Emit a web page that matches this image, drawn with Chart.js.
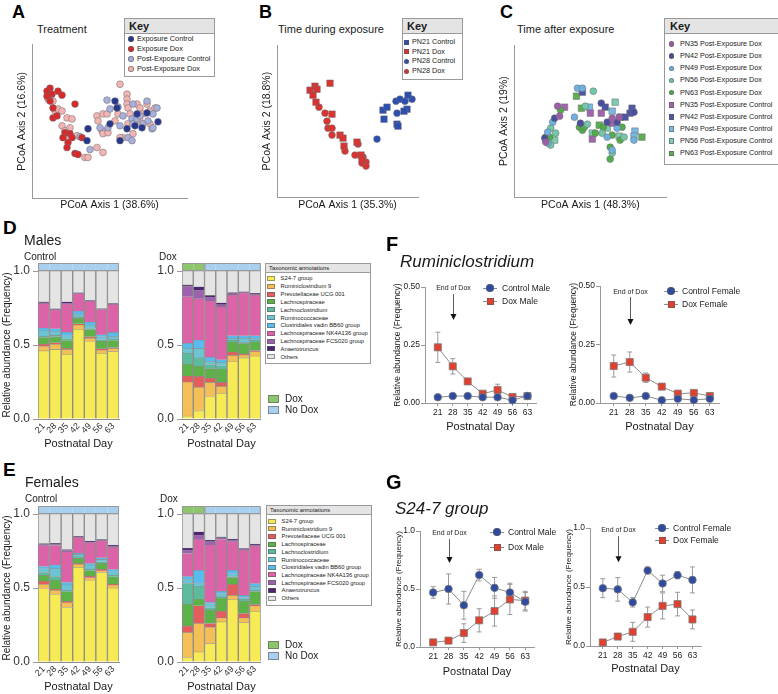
<!DOCTYPE html>
<html>
<head>
<meta charset="utf-8">
<script src="https://cdn.jsdelivr.net/npm/chart.js@4.4.1/dist/chart.umd.min.js"></script>
<style>
  html, body { margin:0; padding:0; background:#fff; }
  #fig { position:relative; width:778px; height:694px; overflow:hidden; font-family: Arial, "Liberation Sans", Helvetica, sans-serif; color:#1a1a1a; }
  #fig canvas { position:absolute; }
  .t { position:absolute; white-space:nowrap; line-height:1; }
  .big { font-weight:bold; color:#000; }
  .box { position:absolute; border:1px solid #9a9a9a; background:#fff; box-sizing:border-box; }
  .hdr { border-bottom:1px solid #9a9a9a; background:#e4e4e4; box-sizing:border-box; white-space:nowrap; }
  .row { position:absolute; white-space:nowrap; line-height:10px; }
  .mk { position:absolute; box-sizing:border-box; }
</style>
</head>
<body>
<div id="fig">
  <canvas id="cA" width="200" height="175" style="left:0px;top:40px"></canvas>
  <canvas id="cB" width="185" height="175" style="left:245px;top:40px"></canvas>
  <canvas id="cC" width="190" height="175" style="left:482px;top:40px"></canvas>
  <canvas id="cDc" width="125" height="200" style="left:0px;top:255px"></canvas>
  <canvas id="cDd" width="125" height="200" style="left:140px;top:255px"></canvas>
  <canvas id="cEc" width="125" height="200" style="left:0px;top:498px"></canvas>
  <canvas id="cEd" width="125" height="200" style="left:140px;top:498px"></canvas>
  <canvas id="cFm" width="165" height="163" style="left:380px;top:275px"></canvas>
  <canvas id="cFf" width="175" height="163" style="left:555px;top:275px"></canvas>
  <canvas id="cGm" width="170" height="164" style="left:375px;top:519px"></canvas>
  <canvas id="cGf" width="175" height="164" style="left:545px;top:516px"></canvas>

  <div class="t big" style="left:12px;top:3px;font-size:18px">A</div>
  <div class="t big" style="left:259px;top:3px;font-size:18px">B</div>
  <div class="t big" style="left:500px;top:3px;font-size:18px">C</div>
  <div class="t" style="left:37px;top:23.5px;font-size:11px">Treatment</div>
  <div class="t" style="left:278px;top:23.5px;font-size:11px">Time during exposure</div>
  <div class="t" style="left:517px;top:23.5px;font-size:11px">Time after exposure</div>

  <div class="t big" style="left:3px;top:217.5px;font-size:19px">D</div>
  <div class="t" style="left:24px;top:233px;font-size:14px">Males</div>
  <div class="t" style="left:24px;top:251.7px;font-size:10px">Control</div>
  <div class="t" style="left:159px;top:251.7px;font-size:10px">Dox</div>

  <div class="t big" style="left:3px;top:459.5px;font-size:19px">E</div>
  <div class="t" style="left:25px;top:475px;font-size:14px">Females</div>
  <div class="t" style="left:25px;top:494px;font-size:10px">Control</div>
  <div class="t" style="left:160px;top:494px;font-size:10px">Dox</div>

  <div class="t big" style="left:386px;top:234.4px;font-size:20px">F</div>
  <div class="t" style="left:400px;top:252.8px;font-size:17px;font-style:italic">Ruminiclostridium</div>
  <div class="t big" style="left:386px;top:472.4px;font-size:20px">G</div>
  <div class="t" style="left:395px;top:499.8px;font-size:17px;font-style:italic">S24-7 group</div>
</div>

<script>
// ---------- data ----------
const days = [21, 28, 35, 42, 49, 56, 63];

// A: PCoA scores (axis units)
const expControl = [[88,72],[87,60],[110,77],[120,60],[127,72],[135,75],[142,73],[147,88],[158,79],[137,87],[117,93],[115,100]];
const expDox = [[50,113],[47,110],[47,105],[58,110],[62,106],[52,107],[75,97],[53,93],[53,83],[65,68],[70,67],[68,58],[72,63],[82,63],[75,47],[78,46],[67,53],[63,63],[57,85],[50,100]];
const postControl = [[107,101],[110,92],[118,94],[123,85],[132,82],[133,77],[137,82],[140,85],[143,77],[148,80],[153,87],[157,93],[152,72],[128,63],[132,60],[90,51],[80,64],[100,73],[108,73],[153,73],[120,75],[147,100],[133,97]];
const postDox = [[48,102],[53,100],[55,90],[58,92],[62,90],[67,83],[72,82],[62,75],[70,73],[65,70],[68,62],[77,65],[85,43],[88,43],[97,53],[103,48],[97,85],[98,80],[103,87],[107,87],[102,70],[103,67],[108,68],[118,87],[120,117],[127,107],[127,102],[127,97],[128,93],[130,87],[137,97],[140,93],[147,97],[150,90],[143,87],[123,63],[120,63],[115,80],[133,67],[128,77],[140,80],[150,77],[155,93]];

// B
const pn21Control = [[383,90],[387,93],[384,81],[397,76],[398,74],[408,105],[407,91],[404,89]];
const pn21Dox = [[330,117],[310,110],[315,114],[317,111],[313,105],[316,98],[332,86],[340,65],[343,62],[344,54],[357,58],[361,45],[362,41]];
const pn28Control = [[377,61],[396,99],[400,101],[405,99],[412,101],[397,87]];
const pn28Dox = [[319,93],[325,87],[327,79],[328,72],[332,72],[332,65],[345,49],[355,45],[358,56],[363,43],[366,38],[366,34],[362,37]];

// C
const pn35Dox = [[558,94],[560,84],[546,58],[613,82],[620,83]];
const pn42Dox = [[555,82],[545,62],[602,97],[581,77],[635,88],[618,78],[608,78]];
const pn49Dox = [[578,112],[583,112],[553,78],[548,57],[575,83],[608,63],[613,50],[635,60],[618,72],[548,68]];
const pn56Dox = [[594,109],[586,94],[551,72],[551,55],[556,67],[603,67],[613,47],[588,76],[625,63]];
const pn63Dox = [[561,90],[546,63],[550,63],[580,73],[583,70],[596,67],[604,73],[611,53],[611,41],[613,65],[623,73],[621,60],[585,73]];
const pn35Control = [[565,93],[591,87],[602,87],[593,61],[613,77]];
const pn42Control = [[606,93],[633,92],[631,87],[626,83],[583,108]];
const pn49Control = [[590,93],[613,89],[621,83],[636,69],[635,64]];
const pn56Control = [[616,98],[608,72],[593,67],[620,64],[555,60]];
const pn63Control = [[577,104],[582,92],[600,75],[643,63]];

// D/E: relative abundance per day (rows = days, columns = taxa)
const taxa = ['S24-7 group','Ruminiclostridium 9','Prevotellaceae UCG 001','Lachnospiraceae','Lachnoclostridium','Ruminococcaceae','Clostridiales vadin BB60 group','Lachnospiraceae NK4A136 group','Lachnospiraceae FCS020 group','Anaerotruncus','Others'];
const maleControl = [
  [0.46,0.03,0.015,0.045,0.01,0.035,0.02,0.165,0.005,0.006,0.209],
  [0.47,0.035,0.01,0.04,0.01,0.025,0.02,0.127,0.004,0.004,0.255],
  [0.437,0.033,0.007,0.053,0.012,0.02,0.025,0.19,0.007,0.008,0.208],
  [0.606,0.029,0.008,0.037,0.01,0.015,0.025,0.117,0.003,0.002,0.148],
  [0.522,0.023,0.01,0.05,0.005,0.025,0.02,0.14,0.003,0.002,0.2],
  [0.444,0.022,0.009,0.05,0.01,0.02,0.015,0.17,0.003,0.002,0.255],
  [0.455,0.022,0.006,0.047,0.01,0.02,0.025,0.188,0.004,0.003,0.22]
];
const maleDox = [
  [0.02,0.23,0.04,0.08,0.075,0.034,0.033,0.314,0.07,0.01,0.094],
  [0.055,0.16,0.073,0.068,0.057,0.064,0.057,0.279,0.057,0.023,0.107],
  [0.15,0.097,0.029,0.064,0.028,0.022,0.028,0.379,0.027,0.011,0.165],
  [0.174,0.046,0.027,0.091,0.022,0.024,0.016,0.356,0.016,0.013,0.215],
  [0.39,0.04,0.022,0.068,0.012,0.014,0.016,0.274,0.011,0.007,0.146],
  [0.413,0.019,0.008,0.07,0.006,0.03,0.016,0.29,0.004,0.004,0.14],
  [0.425,0.029,0.009,0.057,0.012,0.011,0.019,0.274,0.006,0.007,0.151]
];
const femaleControl = [
  [0.495,0.03,0.02,0.04,0.02,0.025,0.015,0.14,0.01,0.005,0.2],
  [0.456,0.029,0.007,0.06,0.025,0.056,0.023,0.131,0.009,0.006,0.198],
  [0.368,0.032,0.01,0.064,0.011,0.035,0.017,0.208,0.008,0.007,0.24],
  [0.64,0.02,0.006,0.034,0.01,0.017,0.007,0.108,0.004,0.003,0.151],
  [0.549,0.02,0.011,0.036,0.011,0.028,0.01,0.141,0.004,0.007,0.183],
  [0.605,0.011,0.011,0.039,0.011,0.016,0.011,0.116,0.004,0.004,0.172],
  [0.5,0.02,0.006,0.05,0.011,0.023,0.015,0.149,0.009,0.007,0.21]
];
const femaleDox = [
  [0.03,0.17,0.044,0.146,0.14,0.027,0.02,0.156,0.023,0.014,0.23],
  [0.068,0.192,0.12,0.044,0.088,0.018,0.09,0.21,0.028,0.022,0.12],
  [0.124,0.109,0.027,0.09,0.016,0.029,0.011,0.384,0.023,0.011,0.176],
  [0.271,0.027,0.045,0.09,0.007,0.023,0.015,0.35,0.012,0.006,0.154],
  [0.424,0.026,0.076,0.045,0.005,0.02,0.024,0.193,0.011,0.006,0.17],
  [0.266,0.032,0.029,0.083,0.014,0.012,0.014,0.306,0.007,0.004,0.233],
  [0.343,0.037,0.008,0.086,0.011,0.027,0.018,0.253,0.007,0.007,0.203]
];
const controlArm = ['No Dox','No Dox','No Dox','No Dox','No Dox','No Dox','No Dox'];
const doxArm = ['Dox','Dox','No Dox','No Dox','No Dox','No Dox','No Dox'];

// F: Ruminiclostridium, G: S24-7 group (mean and error)
const rumMaleCtrl = [0.025, 0.03, 0.03, 0.025, 0.025, 0.012, 0.03];
const rumMaleCtrlErr = [0.004, 0.005, 0.004, 0.004, 0.004, 0.004, 0.005];
const rumMaleDox = [0.24, 0.158, 0.093, 0.04, 0.056, 0.026, 0.03];
const rumMaleDoxErr = [0.065, 0.033, 0.012, 0.01, 0.025, 0.008, 0.008];
const rumFemCtrl = [0.03, 0.022, 0.03, 0.012, 0.018, 0.013, 0.018];
const rumFemCtrlErr = [0.006, 0.005, 0.004, 0.003, 0.005, 0.004, 0.004];
const rumFemDox = [0.158, 0.175, 0.108, 0.07, 0.04, 0.043, 0.03];
const rumFemDoxErr = [0.047, 0.043, 0.02, 0.008, 0.008, 0.01, 0.006];
const s24MaleCtrl = [0.47, 0.50, 0.36, 0.62, 0.51, 0.47, 0.39];
const s24MaleCtrlErr = [0.05, 0.13, 0.12, 0.05, 0.09, 0.08, 0.08];
const s24MaleDox = [0.04, 0.055, 0.12, 0.23, 0.31, 0.41, 0.40];
const s24MaleDoxErr = [0.01, 0.01, 0.08, 0.1, 0.13, 0.13, 0.08];
const s24FemCtrl = [0.49, 0.48, 0.37, 0.64, 0.53, 0.60, 0.56];
const s24FemCtrlErr = [0.08, 0.1, 0.04, 0.03, 0.07, 0.03, 0.11];
const s24FemDox = [0.03, 0.08, 0.12, 0.245, 0.34, 0.355, 0.225];
const s24FemDoxErr = [0.01, 0.02, 0.08, 0.085, 0.11, 0.1, 0.08];

// ---------- styles ----------
const FONT = 'Arial, "Liberation Sans", Helvetica, sans-serif';
Chart.defaults.font.family = FONT;
Chart.defaults.color = '#222';
const taxaColors = ['#f6ea55','#f4bf57','#e35d5f','#5cb247','#5dbb9d','#6bc5d3','#58bdee','#dc63a8','#9d62ae','#4d2372','#e4e4e4'];
const armColors = {'Dox': '#8dc56c', 'No Dox': '#a8cfee'};
const CTRL_BLUE = '#2f4ba0', DOX_RED = '#e2402f';
const fig = document.getElementById('fig');

// ---------- plugins ----------
const stripPlugin = {
  id: 'strip',
  afterDraw(chart, args, o) {
    const {ctx, chartArea, scales: {x}} = chart;
    const w = chartArea.width / o.arm.length;
    const top = chartArea.top - 8, h = 7;
    ctx.save();
    let start = 0;
    o.arm.forEach((a, i) => {
      const cx = x.getPixelForValue(i);
      ctx.fillStyle = armColors[a];
      ctx.fillRect(cx - w / 2, top, w, h);
    });
    ctx.strokeStyle = '#999'; ctx.lineWidth = 1;
    for (let i = 1; i <= o.arm.length; i++) {
      if (i === o.arm.length || o.arm[i] !== o.arm[start]) {
        const l = x.getPixelForValue(start) - w / 2, r = x.getPixelForValue(i - 1) + w / 2;
        ctx.strokeRect(l + 0.5, top + 0.5, r - l - 1, h);
        start = i;
      }
    }
    ctx.restore();
  }
};

const errPlugin = {
  id: 'errbars',
  beforeDatasetsDraw(chart, args, o) {
    const {ctx, scales: {x, y}} = chart;
    ctx.save();
    ctx.strokeStyle = '#9a9a9a'; ctx.lineWidth = 1;
    o.errs.forEach((err, di) => {
      chart.data.datasets[di].data.forEach((p, i) => {
        const px = x.getPixelForValue(p.x);
        const y1 = y.getPixelForValue(p.y + err[i]);
        const y0 = y.getPixelForValue(Math.max(p.y - err[i], 0));
        ctx.beginPath();
        ctx.moveTo(px, y0); ctx.lineTo(px, y1);
        ctx.moveTo(px - 2.5, y1); ctx.lineTo(px + 2.5, y1);
        ctx.moveTo(px - 2.5, y0); ctx.lineTo(px + 2.5, y0);
        ctx.stroke();
      });
    });
    ctx.restore();
  }
};

const doxPlugin = {
  id: 'endDox',
  afterDraw(chart, args, o) {
    const {ctx, scales: {x, y}} = chart;
    const px = Math.round(x.getPixelForValue(o.day)) + 0.5;
    ctx.save();
    ctx.fillStyle = '#222';
    ctx.font = '7px ' + FONT;
    ctx.textAlign = 'center'; ctx.textBaseline = 'middle';
    ctx.fillText(o.text, px, y.getPixelForValue(o.textY));
    const t = y.getPixelForValue(o.from), b = y.getPixelForValue(o.to);
    ctx.strokeStyle = '#333'; ctx.lineWidth = 0.8;
    ctx.beginPath(); ctx.moveTo(px, t); ctx.lineTo(px, b - 5); ctx.stroke();
    ctx.fillStyle = '#111';
    ctx.beginPath(); ctx.moveTo(px - 3, b - 6); ctx.lineTo(px + 3, b - 6); ctx.lineTo(px, b); ctx.closePath(); ctx.fill();
    ctx.restore();
  }
};

// ---------- chart builders ----------
function pcoa(id, sets, xr, yr, xTitle, yTitle, pad, yW, xH) {
  new Chart(document.getElementById(id), {
    type: 'scatter',
    data: {
      datasets: sets.map(s => ({
        label: s.label,
        data: s.pts.map(p => ({x: p[0], y: p[1]})),
        pointStyle: s.shape,
        pointRadius: s.shape === 'rect' ? 4.6 : 3.4,
        pointBackgroundColor: s.color,
        pointBorderColor: 'rgba(110,110,110,0.75)',
        pointBorderWidth: 0.7,
        clip: false
      }))
    },
    options: {
      responsive: false, animation: false,
      layout: {padding: pad},
      plugins: {legend: {display: false}, tooltip: {enabled: false}},
      scales: {
        x: {min: xr[0], max: xr[1], ticks: {display: false}, grid: {display: false, drawTicks: false},
            border: {color: '#999'},
            title: {display: true, text: xTitle, font: {size: 10.5}, color: '#1a1a1a', padding: {top: 0, bottom: 4}},
            afterFit: s => { s.height = xH; }},
        y: {min: yr[0], max: yr[1], ticks: {display: false}, grid: {display: false, drawTicks: false},
            border: {color: '#999'},
            title: {display: true, text: yTitle, font: {size: 10.5}, color: '#1a1a1a', padding: {top: 4, bottom: 0}},
            afterFit: s => { s.width = yW; }}
      }
    }
  });
}

function stacked(id, rows, arm, yTitle, yW, padRight) {
  const datasets = taxa.map((name, k) => ({
    label: name,
    data: rows.map(r => r[k]),
    backgroundColor: taxaColors[k],
    borderColor: '#8c8c8c',
    borderWidth: {top: 0.6, left: 1, right: 1, bottom: 0},
    borderSkipped: false,
    categoryPercentage: 1, barPercentage: 1
  }));
  new Chart(document.getElementById(id), {
    type: 'bar',
    data: {labels: days.map(String), datasets},
    options: {
      responsive: false, animation: false,
      layout: {padding: {left: 0, top: 16, right: padRight, bottom: 0}},
      plugins: {legend: {display: false}, tooltip: {enabled: false}, strip: {arm}},
      scales: {
        x: {stacked: true, grid: {display: false, drawTicks: false}, border: {display: true, color: '#8c8c8c'},
            ticks: {minRotation: 45, maxRotation: 45, autoSkip: false, font: {size: 9}, color: '#333', padding: 2},
            title: {display: true, text: 'Postnatal Day', font: {size: 11}, color: '#1a1a1a', padding: {top: 0, bottom: 4}},
            afterFit: s => { s.height = 36; }},
        y: {stacked: true, min: 0, max: 1,
            ticks: {stepSize: 0.5, callback: v => v.toFixed(1), font: {size: 12}, color: '#333', padding: 3},
            grid: {display: true, drawOnChartArea: false, drawTicks: true, tickLength: 5, color: '#999'},
            border: {display: false},
            title: {display: !!yTitle, text: yTitle || '', font: {size: 10}, color: '#1a1a1a', padding: {top: 1, bottom: 0}},
            afterFit: s => { s.width = yW; }}
      }
    },
    plugins: [stripPlugin]
  });
}

function timeChart(id, c) {
  new Chart(document.getElementById(id), {
    type: 'line',
    data: {
      datasets: [
        {label: c.names[0], data: days.map((d, i) => ({x: d, y: c.ctrl[i]})), borderColor: '#8c8c8c', borderWidth: 1,
         pointStyle: 'circle', pointRadius: 3.8, pointBackgroundColor: CTRL_BLUE, pointBorderColor: '#7a7a7a', pointBorderWidth: 0.8, clip: false},
        {label: c.names[1], data: days.map((d, i) => ({x: d, y: c.dox[i]})), borderColor: '#8c8c8c', borderWidth: 1,
         pointStyle: 'rect', pointRadius: 5, pointBackgroundColor: DOX_RED, pointBorderColor: '#7a7a7a', pointBorderWidth: 0.8, clip: false}
      ]
    },
    options: {
      responsive: false, animation: false,
      layout: {padding: c.pad},
      plugins: {legend: {display: false}, tooltip: {enabled: false},
                errbars: {errs: [c.ctrlErr, c.doxErr]},
                endDox: Object.assign({day: 28, text: 'End of Dox'}, c.arrow)},
      scales: {
        x: {type: 'linear', min: 15, max: 67,
            afterBuildTicks: s => { s.ticks = days.map(v => ({value: v})); },
            ticks: {font: {size: 8.5}, color: '#222', padding: 2, autoSkip: false, maxRotation: 0},
            grid: {display: true, drawOnChartArea: false, tickLength: 3, color: '#999'},
            border: {color: '#999'},
            title: {display: true, text: 'Postnatal Day', font: {size: 11}, color: '#1a1a1a', padding: {top: 0, bottom: 4}},
            afterFit: s => { s.height = c.xH; }},
        y: {min: 0, max: c.yMax,
            ticks: {stepSize: c.yStep, callback: v => v.toFixed(c.dec), font: {size: 8.5}, color: '#222', padding: 1},
            grid: {display: true, drawOnChartArea: false, tickLength: 4, color: '#999'},
            border: {color: '#999'},
            title: {display: true, text: 'Relative abundance (Frequency)', font: {size: c.yfs}, color: '#1a1a1a', padding: {top: 4, bottom: 0}},
            afterFit: s => { s.width = c.yW; }}
      }
    },
    plugins: [errPlugin, doxPlugin]
  });
}

// ---------- HTML keys ----------
function marker(parent, shape, color, cx, cy, size, w, h) {
  const m = document.createElement('div');
  m.className = 'mk';
  const ww = w || size, hh = h || size;
  Object.assign(m.style, {left: (cx - ww / 2) + 'px', top: (cy - hh / 2) + 'px', width: ww + 'px', height: hh + 'px',
    background: color, border: '0.6px solid rgba(90,90,90,0.6)', borderRadius: shape === 'circle' ? '50%' : '0'});
  parent.appendChild(m);
}
function text(parent, str, x, cy, fs) {
  const d = document.createElement('div');
  d.className = 'row';
  d.textContent = str;
  Object.assign(d.style, {left: x + 'px', top: (cy - 5) + 'px', fontSize: fs + 'px'});
  parent.appendChild(d);
}
function makeKey(k) {
  const box = document.createElement('div');
  box.className = 'box';
  Object.assign(box.style, {left: k.left + 'px', top: k.top + 'px', width: k.w + 'px', height: k.h + 'px'});
  const hd = document.createElement('div');
  hd.className = 'hdr';
  hd.textContent = k.title;
  Object.assign(hd.style, {height: k.hh + 'px', lineHeight: (k.hh - 1) + 'px', fontSize: k.tfs + 'px',
    fontWeight: k.bold ? 'bold' : 'normal', paddingLeft: k.tpad + 'px'});
  box.appendChild(hd);
  k.items.forEach((it, i) => {
    const cy = k.first + i * k.step - 1;
    marker(box, it.shape, it.color, k.mx - 1, cy, k.ms, k.sw, k.sh);
    text(box, it.label, k.tx - 1, cy, k.fs);
  });
  fig.appendChild(box);
}
function lineKey(mx, rows, tx, items, fs) {
  items.forEach((it, i) => {
    const ln = document.createElement('div');
    Object.assign(ln.style, {position: 'absolute', left: (mx - 7) + 'px', top: (rows[i] - 0.5) + 'px', width: '14px', height: '1px', background: '#8c8c8c'});
    fig.appendChild(ln);
    marker(fig, it.shape, it.color, mx, rows[i], it.shape === 'rect' ? 7 : 7.5);
    text(fig, it.label, tx, rows[i], fs);
  });
}
function armKey(x, rows) {
  ['Dox', 'No Dox'].forEach((a, i) => {
    marker(fig, 'rect', armColors[a], x + 5.5, rows[i], 0, 11, 8);
    text(fig, a, x + 17, rows[i], 10);
  });
}

// ---------- A, B, C ----------
const setsA = [
  {label: 'Exposure Control', pts: expControl, color: '#26378e', shape: 'circle'},
  {label: 'Exposure Dox', pts: expDox, color: '#d8282a', shape: 'circle'},
  {label: 'Post-Exposure Control', pts: postControl, color: '#a7afdc', shape: 'circle'},
  {label: 'Post-Exposure Dox', pts: postDox, color: '#f3b5b3', shape: 'circle'}
];
const setsB = [
  {label: 'PN21 Control', pts: pn21Control, color: '#2c4eb3', shape: 'rect'},
  {label: 'PN21 Dox', pts: pn21Dox, color: '#dc3330', shape: 'rect'},
  {label: 'PN28 Control', pts: pn28Control, color: '#2c4eb3', shape: 'circle'},
  {label: 'PN28 Dox', pts: pn28Dox, color: '#dc3330', shape: 'circle'}
];
const setsC = [
  {label: 'PN35 Post-Exposure Dox', pts: pn35Dox, color: '#9b5fa8', shape: 'circle'},
  {label: 'PN42 Post-Exposure Dox', pts: pn42Dox, color: '#4b4e9e', shape: 'circle'},
  {label: 'PN49 Post-Exposure Dox', pts: pn49Dox, color: '#6fb2e2', shape: 'circle'},
  {label: 'PN56 Post-Exposure Dox', pts: pn56Dox, color: '#72c8a8', shape: 'circle'},
  {label: 'PN63 Post-Exposure Dox', pts: pn63Dox, color: '#52ac4a', shape: 'circle'},
  {label: 'PN35 Post-Exposure Control', pts: pn35Control, color: '#a264ae', shape: 'rect'},
  {label: 'PN42 Post-Exposure Control', pts: pn42Control, color: '#4e55a6', shape: 'rect'},
  {label: 'PN49 Post-Exposure Control', pts: pn49Control, color: '#7ab8e6', shape: 'rect'},
  {label: 'PN56 Post-Exposure Control', pts: pn56Control, color: '#7ccdb0', shape: 'rect'},
  {label: 'PN63 Post-Exposure Control', pts: pn63Control, color: '#5cb050', shape: 'rect'}
];
pcoa('cA', setsA, [32, 187], [2, 157], 'PCoA Axis 1 (38.6%)', 'PCoA Axis 2 (16.6%)', {left: 12, top: 3, right: 13, bottom: 0}, 20, 17);
pcoa('cB', setsB, [277, 418], [3, 155], 'PCoA Axis 1 (35.3%)', 'PCoA Axis 2 (18.8%)', {left: 12, top: 5, right: 12, bottom: 0}, 20, 18);
pcoa('cC', setsC, [514, 668], [3, 155], 'PCoA Axis 1 (48.3%)', 'PCoA Axis 2 (19%)', {left: 12, top: 5, right: 4, bottom: 0}, 20, 18);

makeKey({left: 124, top: 18, w: 91, h: 59, title: 'Key', bold: true, tfs: 11, hh: 15, tpad: 4,
  first: 21, step: 10, mx: 7, tx: 13, fs: 7.3, ms: 5.5, items: setsA});
makeKey({left: 402, top: 18, w: 61, h: 62, title: 'Key', bold: true, tfs: 11, hh: 15, tpad: 4,
  first: 24, step: 9.7, mx: 4.5, tx: 10, fs: 7.2, ms: 5, items: setsB});
makeKey({left: 664, top: 18, w: 116, h: 147, title: 'Key', bold: true, tfs: 11, hh: 15, tpad: 5,
  first: 26, step: 12.15, mx: 7.5, tx: 16, fs: 7.2, ms: 5.5, items: setsC});

// ---------- D, E ----------
stacked('cDc', maleControl, controlArm, 'Relative abundance (Frequency)', 38, 6);
stacked('cDd', maleDox, doxArm, null, 42, 3);
stacked('cEc', femaleControl, controlArm, 'Relative abundance (Frequency)', 38, 6);
stacked('cEd', femaleDox, doxArm, null, 42, 3);

const taxaItems = taxa.map((t, k) => ({label: t, color: taxaColors[k], shape: 'rect'}));
makeKey({left: 265, top: 263, w: 106, h: 101, title: 'Taxonomic annotations', bold: false, tfs: 5.9, hh: 9, tpad: 3,
  first: 15.3, step: 7.85, mx: 6, tx: 15.6, fs: 5.8, ms: 0, sw: 8, sh: 5, items: taxaItems});
makeKey({left: 266, top: 505, w: 106, h: 101, title: 'Taxonomic annotations', bold: false, tfs: 5.9, hh: 9, tpad: 3,
  first: 16, step: 7.7, mx: 6, tx: 15.6, fs: 5.8, ms: 0, sw: 8, sh: 5, items: taxaItems});
armKey(268, [398.5, 410]);
armKey(268, [644.5, 655.5]);

// ---------- F, G ----------
timeChart('cFm', {names: ['Control Male', 'Dox Male'], ctrl: rumMaleCtrl, ctrlErr: rumMaleCtrlErr, dox: rumMaleDox, doxErr: rumMaleDoxErr,
  yMax: 0.5, yStep: 0.25, dec: 2, yW: 36, yfs: 8.5, xH: 35, pad: {left: 9, top: 12, right: 9, bottom: 0},
  arrow: {textY: 0.496, from: 0.47, to: 0.358}});
timeChart('cFf', {names: ['Control Female', 'Dox Female'], ctrl: rumFemCtrl, ctrlErr: rumFemCtrlErr, dox: rumFemDox, doxErr: rumFemDoxErr,
  yMax: 0.5, yStep: 0.25, dec: 2, yW: 35, yfs: 8.5, xH: 35, pad: {left: 10, top: 11, right: 11, bottom: 0},
  arrow: {textY: 0.474, from: 0.453, to: 0.333}});
timeChart('cGm', {names: ['Control Male', 'Dox Male'], ctrl: s24MaleCtrl, ctrlErr: s24MaleCtrlErr, dox: s24MaleDox, doxErr: s24MaleDoxErr,
  yMax: 1, yStep: 0.5, dec: 1, yW: 30, yfs: 8, xH: 36, pad: {left: 15, top: 12, right: 11, bottom: 0},
  arrow: {textY: 0.983, from: 0.93, to: 0.724}});
timeChart('cGf', {names: ['Control Female', 'Dox Female'], ctrl: s24FemCtrl, ctrlErr: s24FemCtrlErr, dox: s24FemDox, doxErr: s24FemDoxErr,
  yMax: 1, yStep: 0.5, dec: 1, yW: 30, yfs: 8, xH: 34, pad: {left: 15, top: 12, right: 19, bottom: 0},
  arrow: {textY: 0.983, from: 0.93, to: 0.71}});

lineKey(490, [288, 301], 502, [{label: 'Control Male', color: CTRL_BLUE, shape: 'circle'}, {label: 'Dox Male', color: DOX_RED, shape: 'rect'}], 8.5);
lineKey(671, [291, 304], 682, [{label: 'Control Female', color: CTRL_BLUE, shape: 'circle'}, {label: 'Dox Female', color: DOX_RED, shape: 'rect'}], 8.5);
lineKey(497, [532, 547], 508, [{label: 'Control Male', color: CTRL_BLUE, shape: 'circle'}, {label: 'Dox Male', color: DOX_RED, shape: 'rect'}], 8.5);
lineKey(662, [528, 540], 673, [{label: 'Control Female', color: CTRL_BLUE, shape: 'circle'}, {label: 'Dox Female', color: DOX_RED, shape: 'rect'}], 8.5);
</script>
</body>
</html>
